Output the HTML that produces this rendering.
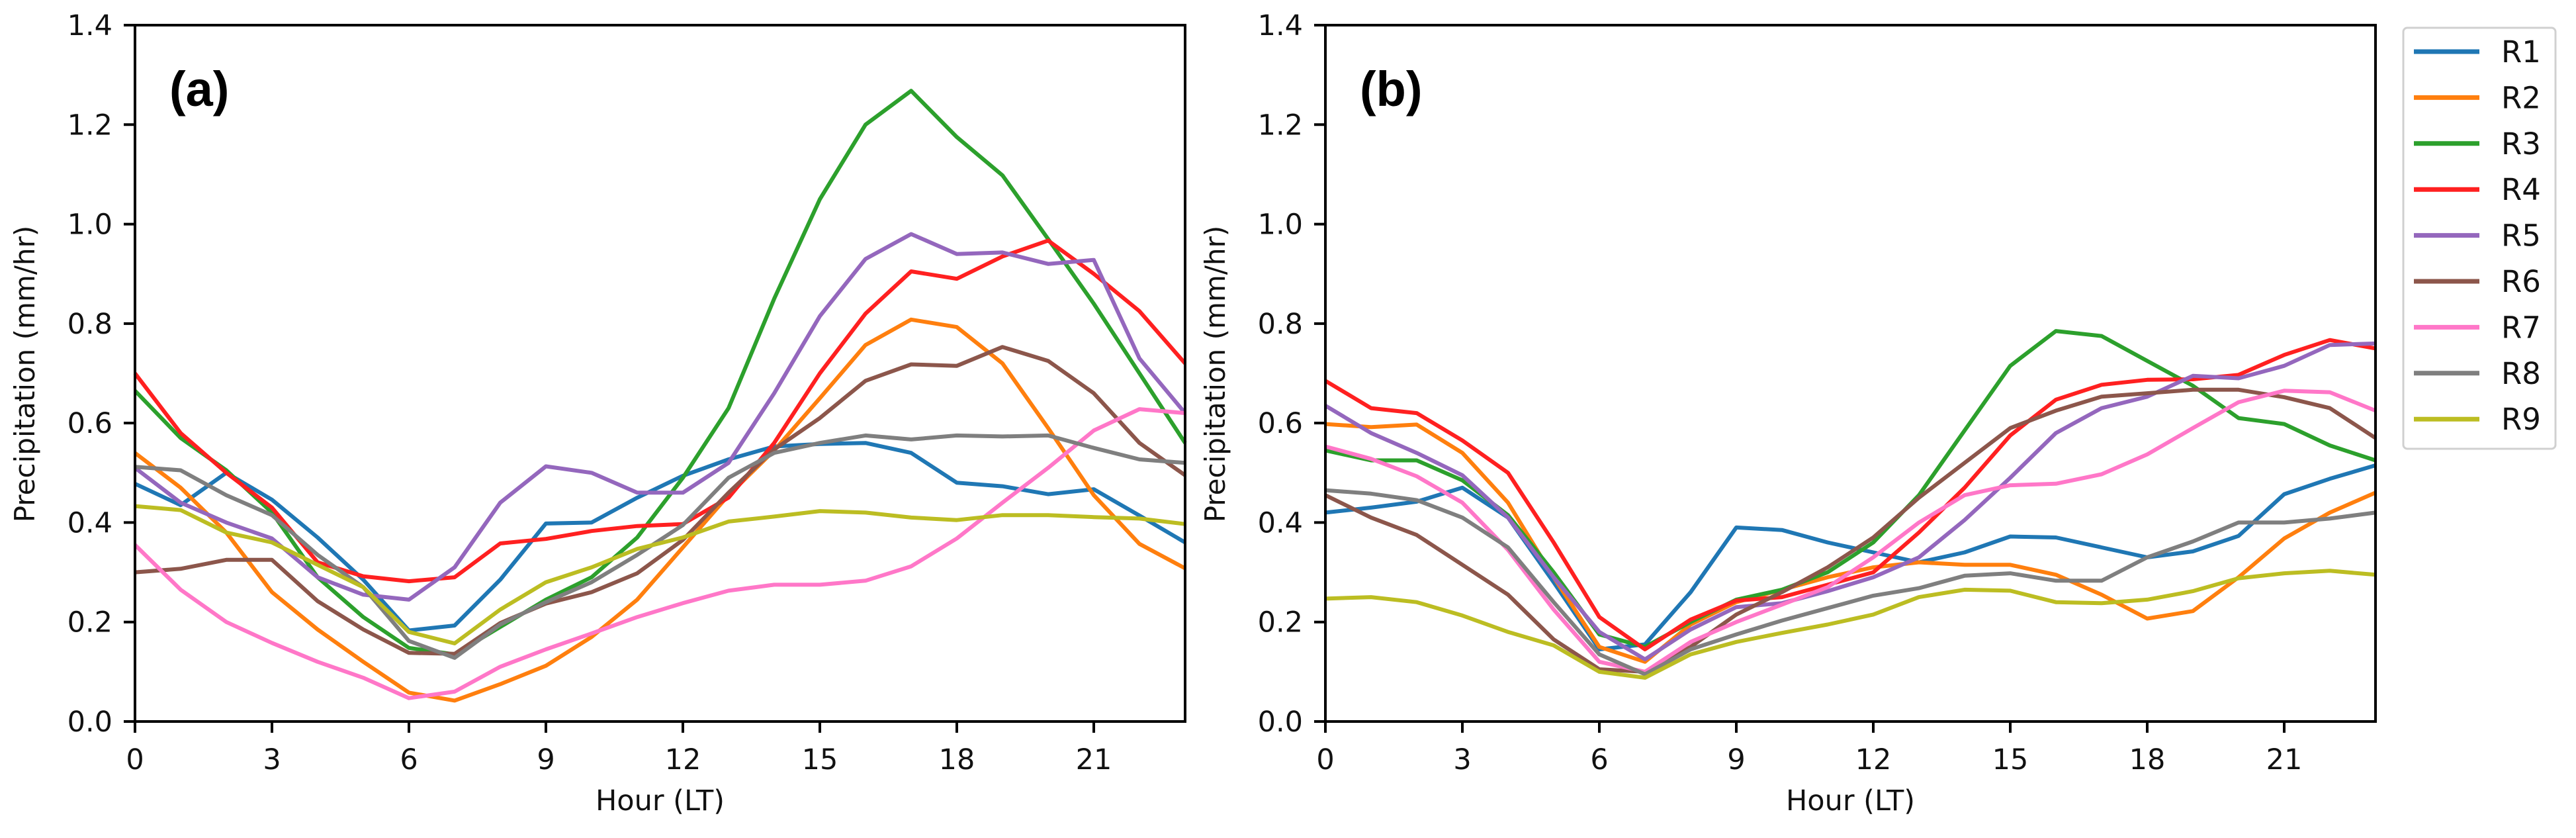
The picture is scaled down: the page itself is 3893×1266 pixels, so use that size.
<!DOCTYPE html>
<html><head><meta charset="utf-8"><style>
html,body{margin:0;padding:0;background:#fff;}
svg{display:block;font-family:"DejaVu Sans","Liberation Sans",sans-serif;}
</style></head><body>
<svg id="chart" width="3893" height="1266" viewBox="0 0 3893 1266" xmlns="http://www.w3.org/2000/svg"></svg>
<script>
const hours = [0,1,2,3,4,5,6,7,8,9,10,11,12,13,14,15,16,17,18,19,20,21,22,23];
const xTicks = [0,3,6,9,12,15,18,21];
const yTicks = [0.0,0.2,0.4,0.6,0.8,1.0,1.2,1.4];
const seriesNames = ["R1","R2","R3","R4","R5","R6","R7","R8","R9"];
const seriesColors = ["#1f77b4","#ff7f0e","#2ca02c","#ff2020","#9467bd","#8c564b","#ff77c8","#7f7f7f","#bcbd22"];
const a_R1 = [0.478,0.435,0.50,0.446,0.37,0.285,0.183,0.193,0.285,0.398,0.40,0.45,0.494,0.527,0.553,0.558,0.56,0.54,0.48,0.473,0.457,0.467,0.414,0.36];
const a_R2 = [0.54,0.47,0.38,0.26,0.185,0.12,0.058,0.042,0.075,0.112,0.17,0.245,0.35,0.455,0.545,0.65,0.757,0.808,0.793,0.72,0.59,0.455,0.357,0.308];
const a_R3 = [0.665,0.57,0.505,0.42,0.29,0.21,0.148,0.135,0.19,0.245,0.29,0.37,0.49,0.63,0.85,1.05,1.2,1.268,1.175,1.098,0.97,0.84,0.7,0.56];
const a_R4 = [0.70,0.58,0.50,0.43,0.32,0.292,0.282,0.29,0.358,0.367,0.383,0.393,0.397,0.45,0.56,0.70,0.82,0.905,0.89,0.935,0.967,0.9,0.825,0.72];
const a_R5 = [0.51,0.44,0.40,0.368,0.29,0.255,0.245,0.31,0.44,0.513,0.50,0.46,0.46,0.52,0.66,0.815,0.93,0.98,0.94,0.943,0.92,0.928,0.73,0.62];
const a_R6 = [0.30,0.307,0.325,0.325,0.242,0.185,0.138,0.136,0.198,0.237,0.26,0.298,0.365,0.46,0.547,0.61,0.685,0.718,0.715,0.753,0.725,0.66,0.56,0.495];
const a_R7 = [0.355,0.265,0.2,0.158,0.12,0.088,0.047,0.06,0.11,0.145,0.177,0.21,0.238,0.263,0.275,0.275,0.283,0.312,0.368,0.44,0.51,0.585,0.628,0.62];
const a_R8 = [0.512,0.505,0.455,0.415,0.335,0.27,0.162,0.128,0.195,0.24,0.28,0.335,0.395,0.49,0.54,0.56,0.575,0.567,0.575,0.573,0.575,0.55,0.527,0.52];
const a_R9 = [0.433,0.425,0.38,0.36,0.315,0.27,0.18,0.157,0.225,0.28,0.31,0.347,0.37,0.402,0.412,0.423,0.42,0.41,0.405,0.415,0.415,0.411,0.408,0.397];
const b_R1 = [0.42,0.43,0.442,0.47,0.41,0.28,0.145,0.155,0.26,0.39,0.385,0.36,0.34,0.32,0.34,0.372,0.37,0.35,0.33,0.342,0.373,0.457,0.488,0.515];
const b_R2 = [0.598,0.592,0.597,0.54,0.44,0.29,0.15,0.12,0.195,0.24,0.265,0.29,0.31,0.32,0.315,0.315,0.295,0.255,0.207,0.222,0.29,0.368,0.42,0.46];
const b_R3 = [0.545,0.525,0.525,0.485,0.415,0.3,0.175,0.15,0.2,0.245,0.265,0.3,0.36,0.455,0.585,0.715,0.785,0.775,0.725,0.675,0.61,0.598,0.555,0.525];
const b_R4 = [0.685,0.63,0.62,0.565,0.5,0.36,0.21,0.145,0.205,0.243,0.25,0.275,0.3,0.38,0.47,0.575,0.647,0.677,0.687,0.688,0.697,0.737,0.767,0.75];
const b_R5 = [0.635,0.58,0.54,0.495,0.41,0.29,0.18,0.125,0.185,0.23,0.238,0.262,0.29,0.33,0.405,0.49,0.58,0.63,0.653,0.695,0.69,0.715,0.757,0.76];
const b_R6 = [0.455,0.41,0.375,0.315,0.255,0.165,0.105,0.1,0.15,0.215,0.26,0.31,0.37,0.45,0.52,0.59,0.625,0.653,0.66,0.667,0.667,0.652,0.63,0.57];
const b_R7 = [0.553,0.528,0.493,0.44,0.345,0.225,0.12,0.1,0.16,0.2,0.235,0.27,0.33,0.4,0.455,0.475,0.478,0.497,0.537,0.59,0.642,0.665,0.662,0.625];
const b_R8 = [0.465,0.458,0.445,0.41,0.35,0.24,0.135,0.095,0.145,0.175,0.203,0.228,0.253,0.268,0.293,0.298,0.283,0.283,0.33,0.362,0.4,0.4,0.408,0.42];
const b_R9 = [0.247,0.25,0.24,0.213,0.18,0.153,0.1,0.088,0.135,0.16,0.178,0.195,0.215,0.25,0.265,0.263,0.24,0.238,0.245,0.262,0.288,0.298,0.303,0.295];
const panelA = [a_R1,a_R2,a_R3,a_R4,a_R5,a_R6,a_R7,a_R8,a_R9];
const panelB = [b_R1,b_R2,b_R3,b_R4,b_R5,b_R6,b_R7,b_R8,b_R9];

const NS = "http://www.w3.org/2000/svg";
const svg = document.getElementById("chart");
function mk(tag, attrs, parent){
  const e = document.createElementNS(NS, tag);
  for (const k in attrs) e.setAttribute(k, attrs[k]);
  (parent||svg).appendChild(e);
  return e;
}
const TOP = 38, BOT = 1090, YMAX = 1.4, XMAX = 23;

function drawPanel(left, right, data, label, key){
  const g = mk("g", {});
  
  
  const xs = h => left + (h / XMAX) * (right - left);
  const ys = v => BOT - (v / YMAX) * (BOT - TOP);
  data.forEach((arr, i) => {
    const pts = hours.map((h, j) => xs(h).toFixed(1) + "," + ys(arr[j]).toFixed(1)).join(" ");
    const pl = mk("polyline", {points: pts, fill: "none", stroke: seriesColors[i], "stroke-width": 6, "stroke-linejoin": "round"}, g);
    
    
  });
  const fr = mk("rect", {x: left, y: TOP, width: right - left, height: BOT - TOP, fill: "none", stroke: "#000", "stroke-width": 4}, g);
  
  
  xTicks.forEach(t => {
    const x = xs(t);
    mk("line", {x1: x, x2: x, y1: BOT, y2: BOT + 17, stroke: "#000", "stroke-width": 4}, g);
    const tx = mk("text", {x: x, y: BOT + 72, "font-size": 43, "text-anchor": "middle", fill: "#111"}, g);
    tx.textContent = String(t);
    
    
  });
  yTicks.forEach(t => {
    const y = ys(t);
    mk("line", {x1: left - 17, x2: left, y1: y, y2: y, stroke: "#000", "stroke-width": 4}, g);
    const tx = mk("text", {x: left - 34, y: y + 15, "font-size": 43, "text-anchor": "end", fill: "#111"}, g);
    tx.textContent = t.toFixed(1);
    
    
  });
  const xt = mk("text", {x: (left + right) / 2, y: 1224, "font-size": 43, "text-anchor": "middle", fill: "#111"}, g);
  xt.textContent = "Hour (LT)";
  
  
  const cx = left - 152, cy = 565;
  const yt = mk("text", {x: cx, y: cy, "font-size": 42, "text-anchor": "middle", fill: "#111", transform: "rotate(-90 " + cx + " " + cy + ")"}, g);
  yt.textContent = "Precipitation (mm/hr)";
  
  
  const pl = mk("text", {x: left + 52, y: 160, "font-size": 74, "font-weight": "bold", fill: "#000", "font-family": "Liberation Sans, sans-serif"}, g);
  pl.textContent = label;
  
  
}
drawPanel(204, 1791, panelA, "(a)", "a");
drawPanel(2003, 3590, panelB, "(b)", "b");

const lg = mk("g", {});


mk("rect", {x: 3632, y: 42, width: 230, height: 636, rx: 6, fill: "#fff", stroke: "#d0d0d0", "stroke-width": 3}, lg);
seriesNames.forEach((n, i) => {
  const y = 78 + i * 69.4;
  const ent = mk("g", {}, lg);
  
  
  mk("line", {x1: 3648, x2: 3747, y1: y, y2: y, stroke: seriesColors[i], "stroke-width": 7}, ent);
  const t = mk("text", {x: 3780, y: y + 16, "font-size": 45, fill: "#111"}, ent);
  t.textContent = n;
});
</script>
</body></html>
